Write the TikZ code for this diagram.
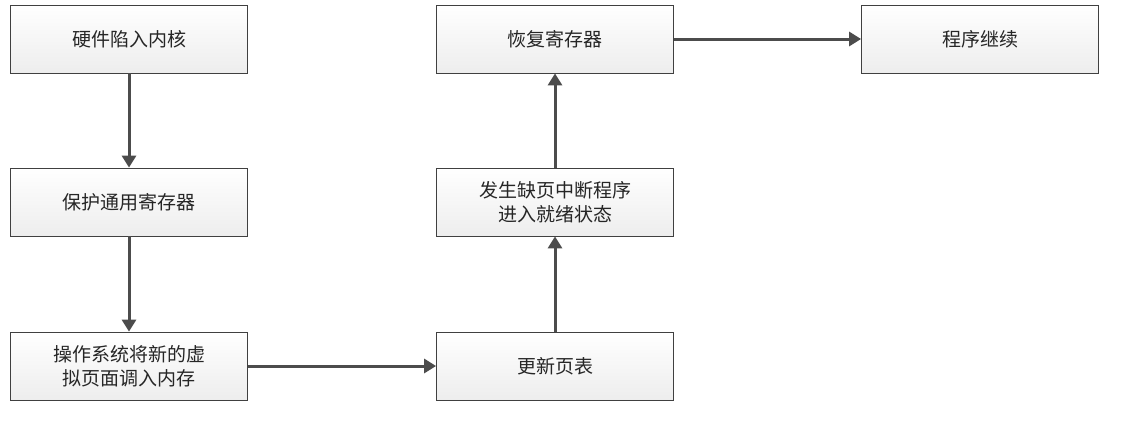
\documentclass[tikz,border=0pt]{standalone}
\usepackage{fontspec}
\setmainfont{Noto Sans CJK SC}
\usetikzlibrary{arrows.meta}
\begin{document}
\begin{tikzpicture}[x=1pt,y=-1pt,
  box/.style={draw=black!75,line width=0.8pt,top color=white,bottom color=black!7,minimum width=237pt,minimum height=68pt,align=center,font=\fontsize{19pt}{24pt}\selectfont,text=black!85},
  arr/.style={line width=3pt,draw=black!70,-{Triangle[length=12pt,width=14pt]}}]
\useasboundingbox (0,0) rectangle (1134,429);
\node[box] (a) at (129,39) {硬件陷入内核};
\node[box] (b) at (129,202) {保护通用寄存器};
\node[box] (c) at (129,366) {操作系统将新的虚\\拟页面调入内存};
\node[box] (d) at (555,366) {更新页表};
\node[box] (e) at (555,202) {发生缺页中断程序\\进入就绪状态};
\node[box] (f) at (555,39) {恢复寄存器};
\node[box] (g) at (980,39) {程序继续};
\draw[arr] (a) -- (b);
\draw[arr] (b) -- (c);
\draw[arr] (c) -- (d);
\draw[arr] (d) -- (e);
\draw[arr] (e) -- (f);
\draw[arr] (f) -- (g);
\end{tikzpicture}
\end{document}
